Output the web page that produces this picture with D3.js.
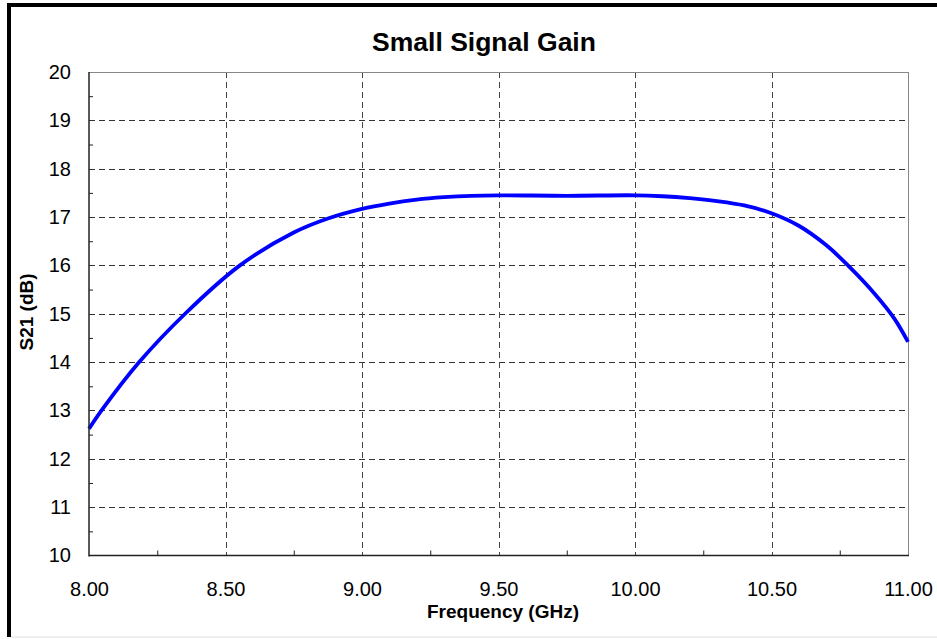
<!DOCTYPE html>
<html>
<head>
<meta charset="utf-8">
<script src="https://cdn.jsdelivr.net/npm/d3@7"></script>
<style>
  body { margin: 0; background: #fff; }
  svg text { font-family: "Liberation Sans", Arial, Helvetica, sans-serif; fill: #000; }
</style>
</head>
<body>
<script>
// S21
var freq = [8.00, 8.046, 8.184, 8.352, 8.553, 8.75, 8.875, 9.00,
            9.10, 9.20, 9.30, 9.40, 9.50, 9.75, 10.00, 10.10, 10.20, 10.30, 10.40, 10.50,
            10.60, 10.70, 10.78, 10.88, 10.95, 11.00];
var s21  = [12.62, 13.0, 14.0, 15.0, 16.0, 16.68, 16.97, 17.17,
            17.28, 17.36, 17.41, 17.44, 17.45, 17.44, 17.45, 17.43, 17.39, 17.33, 17.24, 17.08,
            16.82, 16.42, 16.0, 15.4, 14.9, 14.42];

var xTicks = [8.0, 8.5, 9.0, 9.5, 10.0, 10.5, 11.0];
var xMinor = [8.25, 8.75, 9.25, 9.75, 10.25, 10.75];
var yTicks = [10, 11, 12, 13, 14, 15, 16, 17, 18, 19, 20];
var yMinor = [10.5, 11.5, 12.5, 13.5, 14.5, 15.5, 16.5, 17.5, 18.5, 19.5];

var W = 937, H = 639,
    pL = 89, pR = 908, pT = 72, pB = 555.5;

var svg = d3.select("body").append("svg")
    .attr("width", W)
    .attr("height", H);

// outer frame
svg.append("line").attr("x1", 9).attr("x2", 9).attr("y1", 3).attr("y2", 637)
    .attr("stroke", "#000").attr("stroke-width", 4);
svg.append("line").attr("x1", 7).attr("x2", W).attr("y1", 5).attr("y2", 5)
    .attr("stroke", "#000").attr("stroke-width", 4);
svg.append("line").attr("x1", 11).attr("x2", W).attr("y1", 637).attr("y2", 637)
    .attr("stroke", "#ddd").attr("stroke-width", 1);

var x = d3.scaleLinear().domain([8, 11]).range([pL, pR]);
var y = d3.scaleLinear().domain([10, 20]).range([pB, pT]);

// grid
var grid = svg.append("g");
grid.selectAll("line.h")
    .data(yTicks.slice(1, -1))
  .enter().append("line")
    .attr("x1", pL).attr("x2", pR)
    .attr("y1", function(d) { return Math.round(y(d)) + 0.5; })
    .attr("y2", function(d) { return Math.round(y(d)) + 0.5; })
    .attr("stroke", "#333")
    .attr("stroke-dasharray", "6,4");
grid.selectAll("line.v")
    .data(xTicks.slice(1, -1))
  .enter().append("line")
    .attr("y1", pT).attr("y2", pB)
    .attr("x1", function(d) { return Math.round(x(d)) + 0.5; })
    .attr("x2", function(d) { return Math.round(x(d)) + 0.5; })
    .attr("stroke", "#444")
    .attr("stroke-dasharray", "6,4");

// top and right border of plot area
svg.append("line").attr("x1", pL).attr("x2", pR).attr("y1", pT + 0.5).attr("y2", pT + 0.5)
    .attr("stroke", "#888");
svg.append("line").attr("x1", pR + 0.5).attr("x2", pR + 0.5).attr("y1", pT).attr("y2", pB)
    .attr("stroke", "#888");

// minor ticks, pointing into the plot
svg.append("g")
    .attr("transform", "translate(" + pL + ",0)")
    .call(d3.axisLeft(y).tickValues(yMinor).tickSize(-4).tickFormat(""))
    .call(function(g) { g.select(".domain").remove(); g.selectAll("line").attr("stroke", "#222"); });
svg.append("g")
    .attr("transform", "translate(0," + pB + ")")
    .call(d3.axisBottom(x).tickValues(xMinor).tickSize(-5).tickFormat(""))
    .call(function(g) { g.select(".domain").remove(); g.selectAll("line").attr("stroke", "#222"); });

// curve
var pts = freq.map(function(f, i) { return [f, s21[i]]; });
svg.append("path")
    .datum(pts)
    .attr("fill", "none")
    .attr("stroke", "#0000ff")
    .attr("stroke-width", 3.8)
    .attr("stroke-linejoin", "round")
    .attr("d", d3.line()
        .x(function(d) { return x(d[0]); })
        .y(function(d) { return y(d[1]); })
        .curve(d3.curveCatmullRom.alpha(0.5)));

// main axes
svg.append("line").attr("x1", pL).attr("x2", pL).attr("y1", pT).attr("y2", pB + 1)
    .attr("stroke", "#222").attr("stroke-width", 1.5);
svg.append("line").attr("x1", pL).attr("x2", pR + 1).attr("y1", pB).attr("y2", pB)
    .attr("stroke", "#222").attr("stroke-width", 1.5);

// tick labels
var yAxis = svg.append("g")
    .attr("transform", "translate(" + pL + ",0)")
    .call(d3.axisLeft(y).tickValues(yTicks).tickSize(0).tickPadding(18).tickFormat(d3.format("d")));
yAxis.select(".domain").remove();
yAxis.selectAll("text").style("font-size", "20px").attr("fill", "#000");

var xAxis = svg.append("g")
    .attr("transform", "translate(0," + pB + ")")
    .call(d3.axisBottom(x).tickValues(xTicks).tickSize(0).tickFormat(d3.format(".2f")));
xAxis.select(".domain").remove();
xAxis.selectAll("text").style("font-size", "20px").attr("fill", "#000")
    .attr("y", 40).attr("dy", 0);

// titles
svg.append("text")
    .attr("x", 484).attr("y", 51)
    .attr("text-anchor", "middle")
    .style("font-size", "26.5px").style("font-weight", "bold")
    .text("Small Signal Gain");

svg.append("text")
    .attr("x", 503).attr("y", 618)
    .attr("text-anchor", "middle")
    .style("font-size", "19px").style("font-weight", "bold")
    .text("Frequency (GHz)");

svg.append("text")
    .attr("transform", "translate(33,312) rotate(-90)")
    .attr("text-anchor", "middle")
    .style("font-size", "19px").style("font-weight", "bold")
    .text("S21 (dB)");
</script>
</body>
</html>
